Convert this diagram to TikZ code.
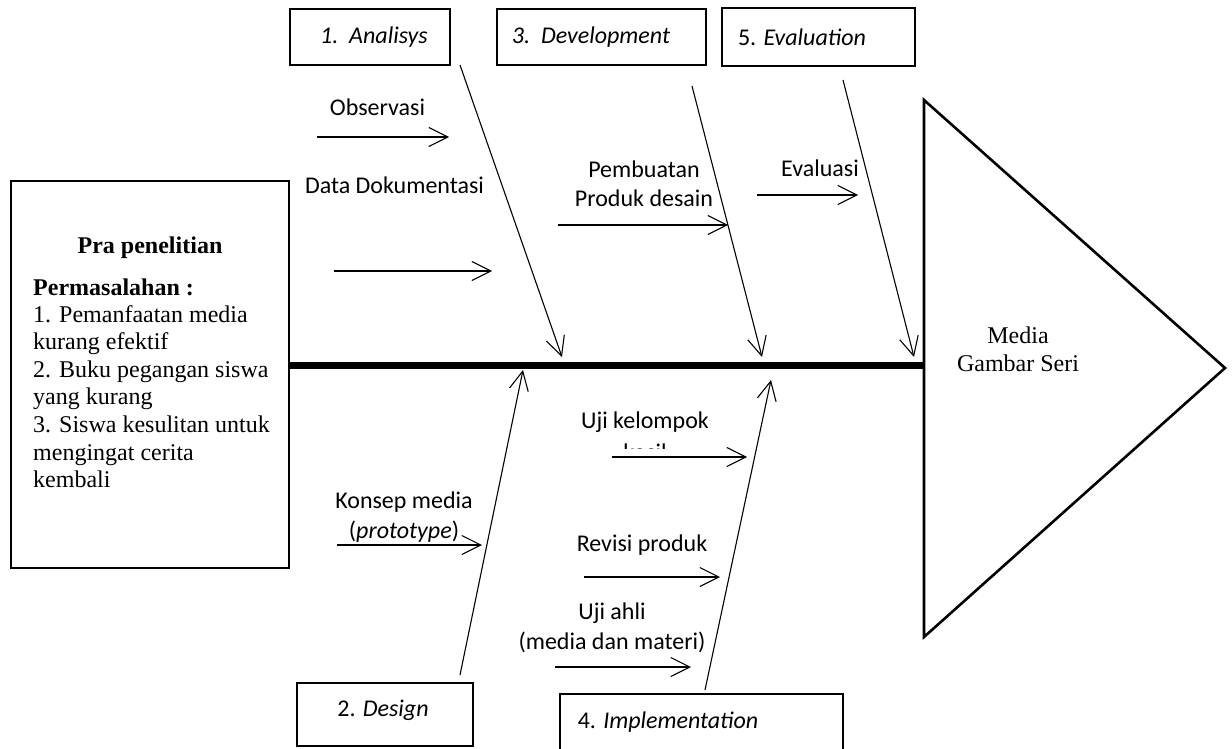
\documentclass[tikz,border=0pt]{standalone}
\usepackage{fontspec}
\setmainfont{Liberation Serif}
\newfontfamily\calfont{Carlito}
\usetikzlibrary{arrows.meta}
\begin{document}
\begin{tikzpicture}[x=1pt,y=-1pt,
  conn/.style={line width=1.1pt,-{Straight Barb[length=19pt,width=19pt]}},
  cal/.style={font=\calfont\fontsize{24}{29.5}\selectfont, inner sep=0pt, align=center},
  tnr/.style={font=\fontsize{24}{27.6}\selectfont, inner sep=0pt},
  tline/.style={tnr, anchor=base west},
  phasebox/.style={draw, line width=1.6pt, inner sep=0pt},
  lowbox/.style={draw, line width=2.2pt, inner sep=0pt}]
\useasboundingbox (0,0) rectangle (1232,749);
\clip (0,0) rectangle (1232,749);
\fill[white] (0,0) rectangle (1232,749);

% top phase boxes
\node[phasebox, minimum width=160pt, minimum height=56pt] (b1) at (370,37) {};
\node[cal] (t1) at (374,37) {\itshape 1.\ \ Analisys};
\node[phasebox, minimum width=209pt, minimum height=56pt] (b3) at (601.5,37) {};
\node[cal] (t3) at (591,37) {\itshape 3.\ \ Development};
\node[phasebox, line width=2.4pt, minimum width=193pt, minimum height=58pt] (b5) at (818.5,37) {};
\node[cal] (t5) at (802,37) {5. \textit{Evaluation}};

% left box
\node[draw, line width=2.2pt, minimum width=278pt, minimum height=387pt, inner sep=0pt] (pra) at (150,374.5) {};
\node[tnr, anchor=base, font=\bfseries\fontsize{24}{27.6}\selectfont] (pt) at (150,253) {Pra penelitian};
\node[tline, font=\bfseries\fontsize{24}{27.6}\selectfont] (pm) at (33,295) {Permasalahan :};
\node[tline] (l1) at (33,322) {1. Pemanfaatan media};
\node[tline] (l2) at (33,349.6) {kurang efektif};
\node[tline] (l3) at (33,377.2) {2. Buku pegangan siswa};
\node[tline] (l4) at (33,404.8) {yang kurang};
\node[tline] (l5) at (33,432.4) {3. Siswa kesulitan untuk};
\node[tline] (l6) at (33,460) {mengingat cerita};
\node[tline] (l7) at (33,487.6) {kembali};

% spine and head
\coordinate (sp0) at (289,365);
\coordinate (sp1) at (924,365);
\draw[line width=7pt] (sp0) -- (sp1);
\coordinate (tt) at (924,100);
\coordinate (tp) at (1225,368);
\coordinate (tb) at (924,637);
\draw[line width=2.6pt, line join=miter] (tt) -- (tp) -- (tb) -- cycle;
\node[tnr, align=center] (media) at (1018,349) {Media\\Gambar Seri};

% main bones
\coordinate (a0) at (460,65);   \coordinate (a1) at (562,357);
\coordinate (d0) at (692,86);   \coordinate (d1) at (762,357);
\coordinate (e0) at (843,80);   \coordinate (e1) at (914,357);
\coordinate (g0) at (460,675);  \coordinate (g1) at (523,370);
\coordinate (i0) at (705,690);  \coordinate (i1) at (771,380);
\draw[conn] (a0) -- (a1);
\draw[conn] (d0) -- (d1);
\draw[conn] (e0) -- (e1);
\draw[conn] (g0) -- (g1);
\draw[conn] (i0) -- (i1);

% labels and small arrows, top
\node[cal] (obs) at (377.5,107) {Observasi};
\coordinate (o0) at (317,137); \coordinate (o1) at (449,137);
\draw[conn] (o0) -- (o1);
\node[cal] (dok) at (394.5,185) {Data Dokumentasi};
\coordinate (k0) at (334,271); \coordinate (k1) at (492,271);
\draw[conn] (k0) -- (k1);
\node[cal] (pbt) at (644,184) {Pembuatan\\Produk desain};
\coordinate (p0) at (558,225); \coordinate (p1) at (728,225);
\draw[conn] (p0) -- (p1);
\node[cal] (evl) at (820,168) {Evaluasi};
\coordinate (v0) at (757,195); \coordinate (v1) at (858,195);
\draw[conn] (v0) -- (v1);

% labels and small arrows, bottom
\node[cal] (ujk) at (645,422) {Uji kelompok};
\begin{scope}
  \clip (600,442) rectangle (700,448);
  \node[cal, anchor=base] (kcl) at (645,460) {kecil};
\end{scope}
\coordinate (u0) at (612,457); \coordinate (u1) at (747,457);
\draw[conn] (u0) -- (u1);
\node[cal] (ksp) at (404,517) {Konsep media\\(\textit{prototype})};
\coordinate (c0) at (337,545); \coordinate (c1) at (482,545);
\draw[conn] (c0) -- (c1);
\node[cal] (rvs) at (642,545) {Revisi produk};
\coordinate (r0) at (584,577); \coordinate (r1) at (720,577);
\draw[conn] (r0) -- (r1);
\node[cal] (uja) at (612,628) {Uji ahli\\(media dan materi)};
\coordinate (h0) at (555,667); \coordinate (h1) at (691,667);
\draw[conn] (h0) -- (h1);

% bottom phase boxes
\node[lowbox, minimum width=176pt, minimum height=63pt] (b2) at (385,714.5) {};
\node[cal] (t2) at (383,710) {2. \textit{Design}};
\node[lowbox, minimum width=283pt, minimum height=80pt] (b4) at (701.5,734) {};
\node[cal] (t4) at (668,722) {4. \textit{Implementation}};
\end{tikzpicture}
\end{document}
